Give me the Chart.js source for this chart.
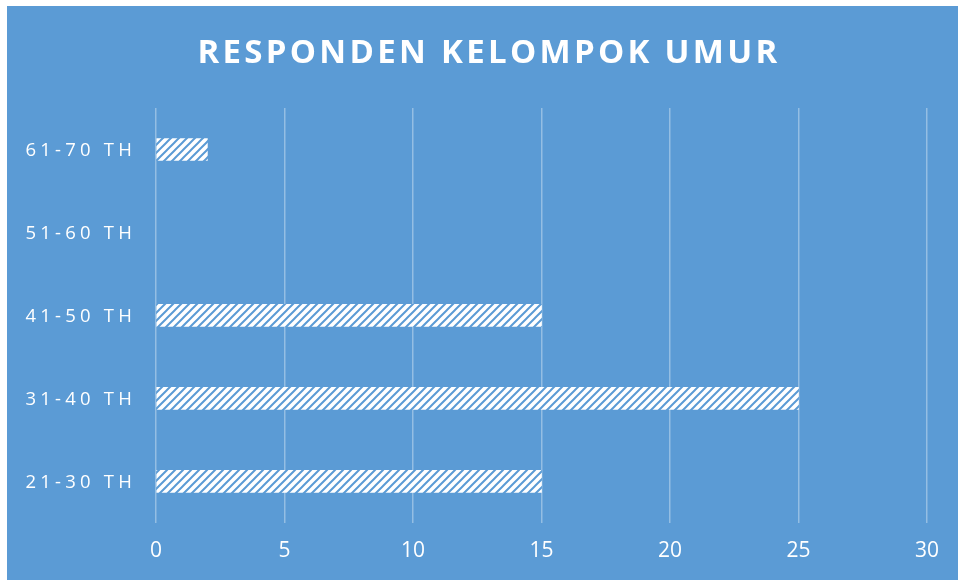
<!DOCTYPE html>
<html>
<head>
<meta charset="utf-8">
<script src="https://cdn.jsdelivr.net/npm/chart.js@4/dist/chart.umd.min.js"></script>
<style>
  html, body { margin:0; padding:0; background:#fff; }
  #wrap { width:958px; height:580px; box-sizing:border-box; padding:6px 0 0 7px; }
  #box { width:951px; height:574px; background:#5b9bd5; position:relative; }
</style>
</head>
<body>
<div id="wrap"><div id="box"><canvas id="chart"></canvas></div></div>
<script>
/* Responden per kelompok umur */
const TITLE = 'RESPONDEN KELOMPOK UMUR';
const ageGroups = ['21-30 TH', '31-40 TH', '41-50 TH', '51-60 TH', '61-70 TH'];
const respondents = [15, 25, 15, 0, 2];
const xTicks = [0, 5, 10, 15, 20, 25, 30];

const BG = '#5b9bd5';
const FONT = '"Open Sans", "DejaVu Sans", sans-serif';

// white bars with thin blue diagonal hatching
function hatch() {
  const c = document.createElement('canvas');
  c.width = 8; c.height = 8;
  const g = c.getContext('2d');
  g.fillStyle = '#fff'; g.fillRect(0, 0, 8, 8);
  g.strokeStyle = BG; g.lineWidth = 2;
  g.beginPath();
  g.moveTo(-2, 10); g.lineTo(10, -2);
  g.moveTo(-2, 2); g.lineTo(2, -2);
  g.moveTo(6, 10); g.lineTo(10, 6);
  g.stroke();
  return g.createPattern(c, 'repeat');
}
const pattern = hatch();

// title + spaced category labels (Chart.js has no letter-spacing option)
const spacedText = {
  id: 'spacedText',
  afterDraw(chart) {
    const { ctx, chartArea, scales } = chart;
    ctx.save();
    ctx.fillStyle = '#fff';
    ctx.textBaseline = 'middle';

    ctx.font = `bold 33px ${FONT}`;
    ctx.letterSpacing = '3.3px';
    ctx.textAlign = 'center';
    ctx.fillText(TITLE, 482, 48);

    ctx.font = `18.5px ${FONT}`;
    ctx.letterSpacing = '4.2px';
    ctx.textAlign = 'right';
    ageGroups.forEach((lab, i) => {
      ctx.fillText(lab, chartArea.left - 20, scales.y.getPixelForValue(i) + 1);
    });
    ctx.restore();
  }
};

new Chart(document.getElementById('chart'), {
  type: 'bar',
  data: {
    labels: ageGroups,
    datasets: [{
      data: respondents,
      backgroundColor: (c) => (c.raw ? pattern : 'transparent'),
      borderWidth: 0,
      barThickness: 22
    }]
  },
  options: {
    indexAxis: 'y',
    responsive: true,
    maintainAspectRatio: false,
    animation: false,
    layout: { padding: { left: 141, right: 31, top: 102, bottom: 0 } },
    plugins: { legend: { display: false }, title: { display: false }, tooltip: { enabled: false } },
    scales: {
      x: {
        min: xTicks[0], max: xTicks[xTicks.length - 1],
        afterBuildTicks: (s) => { s.ticks = xTicks.map((v) => ({ value: v })); },
        grid: { color: 'rgba(255,255,255,0.35)', lineWidth: 1.5, drawTicks: false },
        border: { display: false },
        ticks: { color: '#fff', font: { family: FONT, size: 21 }, padding: 16 }
      },
      y: {
        reverse: true,
        grid: { display: false },
        border: { display: false },
        ticks: { display: false }
      }
    }
  },
  plugins: [spacedText]
});
</script>
</body>
</html>
